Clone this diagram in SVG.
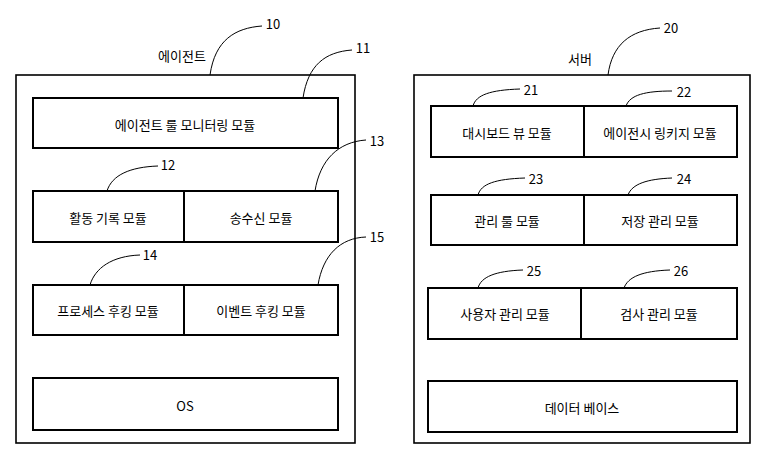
<svg xmlns="http://www.w3.org/2000/svg" width="764" height="458" viewBox="0 0 764 458">
<style>
.b{fill:#fff;stroke:#000;stroke-width:2}
.o{fill:none;stroke:#000;stroke-width:1.6}
.l{fill:none;stroke:#000;stroke-width:1}
text{font-family:"Noto Sans CJK KR","Noto Sans",sans-serif;font-size:13px;text-anchor:middle;dominant-baseline:central}
</style>
<rect width="764" height="458" fill="#fff"/>
<g id="agent"><rect class="o" x="16" y="75" width="339" height="368"/><text x="182" y="55">에이전트</text></g>
<g id="m11"><rect class="b" x="33" y="98" width="305" height="50"/><text x="185" y="124">에이전트 룰 모니터링 모듈</text></g>
<g id="m12"><rect class="b" x="33" y="191" width="151" height="51"/><text x="108" y="217">활동 기록 모듈</text></g>
<g id="m13"><rect class="b" x="184" y="191" width="154" height="51"/><text x="261" y="217">송수신 모듈</text></g>
<g id="m14"><rect class="b" x="33" y="285" width="151" height="50"/><text x="108" y="310">프로세스 후킹 모듈</text></g>
<g id="m15"><rect class="b" x="184" y="285" width="154" height="50"/><text x="261" y="310">이벤트 후킹 모듈</text></g>
<g id="os"><rect class="b" x="33" y="378" width="305" height="52"/><text x="185" y="405">OS</text></g>
<g id="server"><rect class="o" x="414" y="75" width="336" height="368"/><text x="580" y="58">서버</text></g>
<g id="m21"><rect class="b" x="431" y="106" width="153" height="51"/><text x="507" y="132">대시보드 뷰 모듈</text></g>
<g id="m22"><rect class="b" x="584" y="106" width="153" height="51"/><text x="660" y="132">에이전시 링키지 모듈</text></g>
<g id="m23"><rect class="b" x="431" y="195" width="153" height="50"/><text x="507" y="220">관리 룰 모듈</text></g>
<g id="m24"><rect class="b" x="584" y="195" width="153" height="50"/><text x="660" y="220">저장 관리 모듈</text></g>
<g id="m25"><rect class="b" x="428" y="288" width="153" height="51"/><text x="505" y="313">사용자 관리 모듈</text></g>
<g id="m26"><rect class="b" x="581" y="288" width="156" height="51"/><text x="659" y="313">검사 관리 모듈</text></g>
<g id="db"><rect class="b" x="428" y="381" width="309" height="51"/><text x="582" y="407">데이터 베이스</text></g>
<g id="connectors">
<path class="l" d="M210 75 C215 40 235 28 262 26"/>
<path class="l" d="M303 98 C308 65 325 52 352 50"/>
<path class="l" d="M107 191 C112 175 130 167 158 166"/>
<path class="l" d="M315 191 C320 160 338 142 366 140"/>
<path class="l" d="M90 285 C95 268 112 256 140 255"/>
<path class="l" d="M318 285 C323 255 340 238 366 237"/>
<path class="l" d="M608 75 C612 45 630 30 660 28"/>
<path class="l" d="M473 106 C476 95 490 90 520 89"/>
<path class="l" d="M626 106 C630 95 645 91 672 91"/>
<path class="l" d="M478 195 C481 184 495 179 525 178"/>
<path class="l" d="M628 195 C632 184 647 179 672 178"/>
<path class="l" d="M478 288 C481 277 495 271 523 270"/>
<path class="l" d="M624 288 C628 277 642 271 670 270"/>
</g>
<g id="labels">
<text x="273" y="23">10</text><text x="363" y="47">11</text><text x="168" y="164">12</text><text x="377" y="140">13</text><text x="150" y="254">14</text><text x="377" y="236">15</text>
<text x="671" y="27">20</text><text x="531" y="89">21</text><text x="684" y="91">22</text><text x="536" y="178">23</text><text x="684" y="178">24</text><text x="534" y="270">25</text><text x="681" y="270">26</text>
</g>
</svg>
